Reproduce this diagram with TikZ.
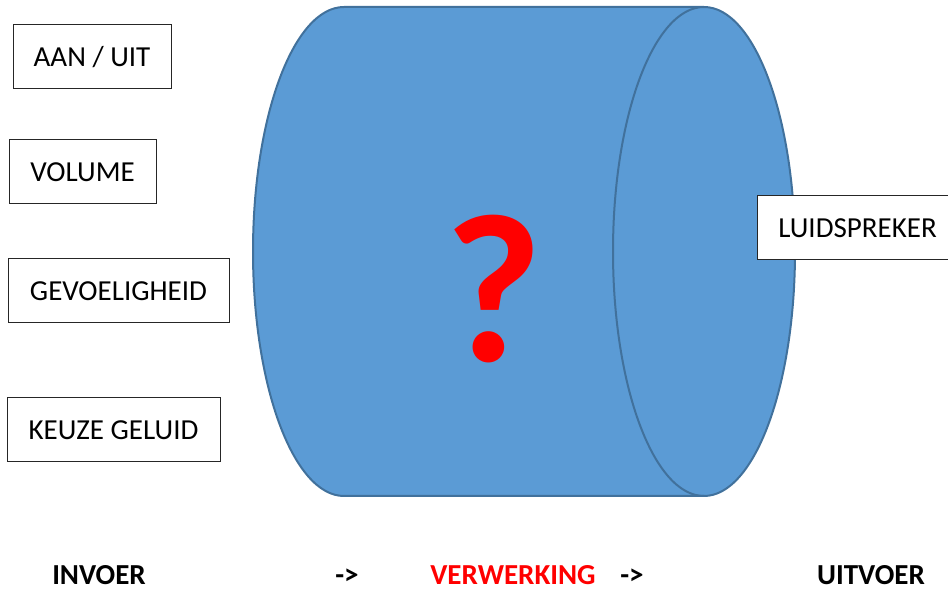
\documentclass[tikz,border=0pt]{standalone}
\usepackage{fontspec}
\setmainfont{Carlito}
\definecolor{canfill}{HTML}{5B9BD5}
\definecolor{canline}{HTML}{41719C}
\definecolor{qred}{HTML}{FF0000}
\begin{document}
\begin{tikzpicture}[x=1pt,y=1pt,
  inbox/.style={draw=black!85, line width=1pt, fill=white, inner sep=0pt, minimum height=64pt, font=\fontsize{29}{34}\selectfont},
  bottomlbl/.style={anchor=base, inner sep=0pt, font=\fontsize{29}{34}\selectfont\bfseries}]
\useasboundingbox (0,0) rectangle (948,589);
\clip (0,0) rectangle (948,589);
% cylinder
\draw[fill=canfill, draw=canline, line width=2pt]
  (344,582) -- (704,582) arc[start angle=90, end angle=-90, x radius=91, y radius=244.5]
  -- (344,93) arc[start angle=270, end angle=90, x radius=91, y radius=244.5] -- cycle;
\draw[draw=canline, line width=2pt]
  (704,582) arc[start angle=90, end angle=270, x radius=91, y radius=244.5];
\node[anchor=base, inner sep=0pt, text=qred, font=\fontsize{212}{230}\selectfont\bfseries] (q) at (494,227) {?};
% input boxes
\node[inbox, minimum width=158pt] (aan) at (92,532) {AAN / UIT};
\node[inbox, minimum width=147pt] (vol) at (82.5,417) {VOLUME};
\node[inbox, minimum width=221pt] (gev) at (118.5,298) {GEVOELIGHEID};
\node[inbox, minimum width=213pt] (keu) at (113.5,159) {KEUZE GELUID};
% output box
\node[inbox, minimum width=201pt] (luid) at (857.5,361) {LUIDSPREKER};
% bottom labels
\node[bottomlbl] (inv) at (99,4) {INVOER};
\node[bottomlbl] (ar1) at (347,4) {->};
\node[bottomlbl, text=qred] (ver) at (513,4) {VERWERKING};
\node[bottomlbl] (ar2) at (632,4) {->};
\node[bottomlbl] (uit) at (871,4) {UITVOER};
\end{tikzpicture}
\end{document}
